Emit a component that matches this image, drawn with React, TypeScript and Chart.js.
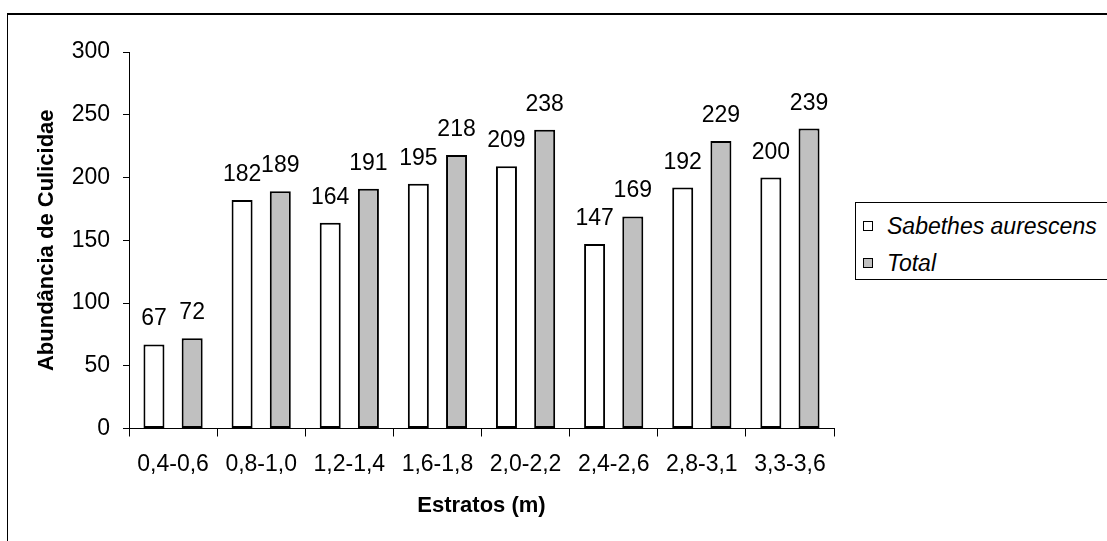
import React, { useEffect, useRef } from "react";
import { Chart, registerables } from "chart.js";

Chart.register(...registerables);

const categories = ["0,4-0,6", "0,8-1,0", "1,2-1,4", "1,6-1,8", "2,0-2,2", "2,4-2,6", "2,8-3,1", "3,3-3,6"];
const sabethesValues = [67, 182, 164, 195, 209, 147, 192, 200];
const totalValues = [72, 189, 191, 218, 238, 169, 229, 239];
const seriesNames = ["Sabethes aurescens", "Total"];
const seriesColors = ["#FFFFFF", "#C0C0C0"];
const yAxisTitle = "Abundância de Culicidae";
const xAxisTitle = "Estratos (m)";
const yMin = 0;
const yMax = 300;
const yStep = 50;

const FONT = '"Liberation Sans", Arial, Helvetica, sans-serif';

const valueLabels = {
  id: "valueLabels",
  afterDatasetsDraw(chart: any) {
    const ctx = chart.ctx;
    ctx.save();
    ctx.font = `23px ${FONT}`;
    ctx.fillStyle = "#000";
    ctx.textAlign = "center";
    ctx.textBaseline = "alphabetic";
    chart.data.datasets.forEach((ds: any, i: number) => {
      const meta = chart.getDatasetMeta(i);
      meta.data.forEach((bar: any, j: number) => {
        ctx.fillText(String(ds.data[j]), bar.x, bar.y - 19);
      });
    });
    ctx.restore();
  },
};

export default function App() {
  const canvasRef = useRef<HTMLCanvasElement | null>(null);

  useEffect(() => {
    if (!canvasRef.current) return;
    const chart = new Chart(canvasRef.current, {
      type: "bar",
      data: {
        labels: categories,
        datasets: [
          {
            label: seriesNames[0],
            data: sabethesValues,
            backgroundColor: seriesColors[0],
            borderColor: "#000",
            borderWidth: 2,
            borderSkipped: false,
            categoryPercentage: 0.867,
            barPercentage: 0.55,
          },
          {
            label: seriesNames[1],
            data: totalValues,
            backgroundColor: seriesColors[1],
            borderColor: "#000",
            borderWidth: 2,
            borderSkipped: false,
            categoryPercentage: 0.867,
            barPercentage: 0.55,
          },
        ],
      },
      options: {
        animation: false,
        responsive: false,
        maintainAspectRatio: false,
        layout: { padding: { top: 52, right: 273, left: 0, bottom: 0 } },
        plugins: {
          legend: { display: false },
          tooltip: { enabled: false },
        },
        scales: {
          x: {
            type: "category",
            afterFit: (scale: any) => {
              scale.height = 112.5;
            },
            grid: {
              offset: true,
              drawOnChartArea: false,
              drawTicks: true,
              tickLength: 8,
              color: "#000",
            },
            border: { display: true, color: "#000", width: 1 },
            ticks: {
              color: "#000",
              font: { family: FONT, size: 23 },
              padding: 14,
              maxRotation: 0,
              autoSkip: false,
            },
            title: {
              display: true,
              text: xAxisTitle,
              color: "#000",
              font: { family: FONT, size: 22, weight: "bold" },
              padding: { top: 0, bottom: 22 },
            },
          },
          y: {
            min: yMin,
            max: yMax,
            afterFit: (scale: any) => {
              scale.width = 129;
            },
            grid: {
              drawOnChartArea: false,
              drawTicks: true,
              tickLength: 6,
              color: "#000",
            },
            border: { display: true, color: "#000", width: 1 },
            ticks: {
              stepSize: yStep,
              color: "#000",
              font: { family: FONT, size: 23 },
              padding: 13,
            },
            title: {
              display: true,
              text: yAxisTitle,
              color: "#000",
              font: { family: FONT, size: 22, weight: "bold" },
              padding: { top: 34, bottom: 0 },
            },
          },
        },
      },
      plugins: [valueLabels],
    });
    return () => chart.destroy();
  }, []);

  return (
    <div
      style={{
        position: "fixed",
        left: 0,
        top: 0,
        width: 1107,
        height: 541,
        overflow: "hidden",
        background: "#fff",
      }}
    >
      <div
        style={{
          position: "absolute",
          left: 7,
          top: 13,
          width: 1200,
          height: 600,
          borderLeft: "1px solid #000",
          borderTop: "2px solid #000",
        }}
      />
      <canvas
        ref={canvasRef}
        width={1107}
        height={541}
        style={{ position: "absolute", left: 0, top: 0, width: 1107, height: 541 }}
      />
      <div
        style={{
          position: "absolute",
          left: 855,
          top: 202,
          width: 320,
          height: 76,
          border: "1px solid #000",
          background: "#fff",
          fontFamily: FONT,
          fontStyle: "italic",
          fontSize: 23,
          color: "#000",
        }}
      >
        {seriesNames.map((name, i) => (
          <div
            key={name}
            style={{
              position: "absolute",
              left: 0,
              top: i === 0 ? 8 : 45,
              height: 30,
              display: "flex",
              alignItems: "center",
              whiteSpace: "nowrap",
            }}
          >
            <span
              style={{
                display: "inline-block",
                width: 8,
                height: 8,
                marginLeft: 7,
                marginRight: 14,
                border: "1px solid #000",
                background: seriesColors[i],
              }}
            />
            <span>{name}</span>
          </div>
        ))}
      </div>
    </div>
  );
}
